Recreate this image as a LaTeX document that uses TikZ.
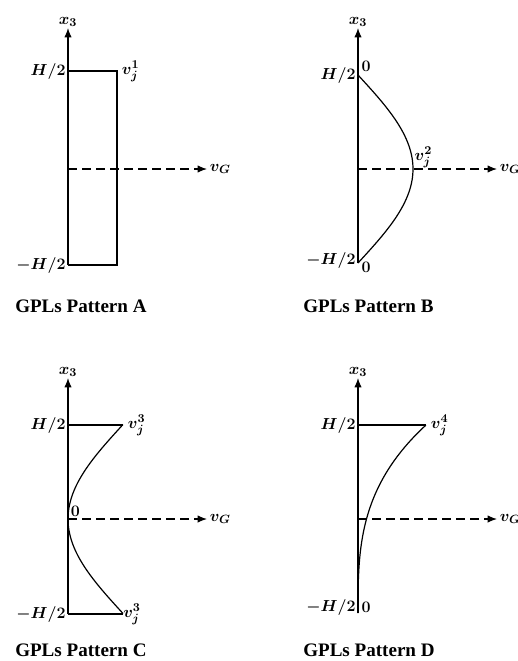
\documentclass[tikz,border=0pt]{standalone}
\usepackage{fontspec}
\setmainfont{Liberation Serif}
\usetikzlibrary{arrows.meta}
\tikzset{
	axis/.style={line width=0.9pt,-{Latex[length=7pt,width=5.5pt]}},
	level/.style={line width=0.9pt},
	mid/.style={line width=0.9pt,dash pattern=on 6.5pt off 4pt,-{Latex[length=7pt,width=5.5pt]}},
	lbl/.style={font=\fontsize{13}{15}\selectfont\boldmath,inner sep=1.5pt},
	ttl/.style={font=\fontsize{14.3}{16}\selectfont\bfseries,anchor=west,inner sep=0pt}
}
\begin{document}
\begin{tikzpicture}[x=0.75pt,y=-0.75pt]
	\useasboundingbox (0,0) rectangle (518,661);
	% Pattern A
	\coordinate (Atop) at (68,28)  node at (Atop) [lbl,above,inner sep=1pt] {$x_3$};
	\coordinate (At)   at (68,71)  node at (At) [lbl,left] {$H/2$};
	\coordinate (Ab)   at (68,265) node at (Ab) [lbl,left] {$-H/2$};
	\coordinate (Atr)  at (117,71) node at (Atr) [lbl,right,xshift=2pt] {$v_j^1$};
	\coordinate (Abr)  at (117,265);
	\coordinate (Am)   at (68,169);
	\coordinate (Ae)   at (207,169) node at (Ae) [lbl,right,inner sep=2pt] {$v_G$};
	\draw [axis] (Ab)--(Atop);
	\draw [level] (At)--(Atr)--(Abr)--(Ab);
	\draw [mid] (Am)--(Ae);
	\node [ttl] (titleA) at (15,306) {GPLs Pattern A};
	% Pattern B
	\coordinate (Btop) at (358,28)  node at (Btop) [lbl,above,inner sep=1pt] {$x_3$};
	\coordinate (Bt)   at (358,75)  node at (Bt) [lbl,left] {$H/2$};
	\coordinate (Bb)   at (358,263) node at (Bb) [lbl,left,yshift=2pt] {$-H/2$};
	\coordinate (Bpk)  at (413,169) node at (Bpk) [lbl,above right,inner sep=1pt] {$v_j^2$};
	\coordinate (Bm)   at (358,169);
	\coordinate (Be)   at (497,169) node at (Be) [lbl,right,inner sep=2pt] {$v_G$};
	\node [lbl,above right,inner sep=2.5pt] at (Bt) {$0$};
	\node [lbl,right,inner sep=2.5pt,yshift=-3pt] at (Bb) {$0$};
	\draw [axis] (Bb)--(Btop);
	\draw [level] plot[domain=-1:1,samples=60] ({358+55*cos(90*\x)},{169-94*\x});
	\draw [mid] (Bm)--(Be);
	\node [ttl] (titleB) at (303,306) {GPLs Pattern B};
	% Pattern C
	\coordinate (Ctop) at (68,378)  node at (Ctop) [lbl,above,inner sep=1pt] {$x_3$};
	\coordinate (Ct)   at (68,425)  node at (Ct) [lbl,left] {$H/2$};
	\coordinate (Cb)   at (68,614)  node at (Cb) [lbl,left] {$-H/2$};
	\coordinate (Ctr)  at (123,425) node at (Ctr) [lbl,right,xshift=2pt] {$v_j^3$};
	\coordinate (Cbr)  at (123,614) node at (Cbr) [lbl,right,inner sep=0pt] {$v_j^3$};
	\coordinate (Cm)   at (68,519)  node at (Cm) [lbl,above right,inner sep=2pt] {$0$};
	\coordinate (Ce)   at (207,519) node at (Ce) [lbl,right,inner sep=2pt] {$v_G$};
	\draw [axis] (Cb)--(Ctop);
	\draw [level] (Ct)--(Ctr) (Cb)--(Cbr);
	\draw [level] plot[domain=-1:1,samples=60] ({68+55*(1-cos(90*\x))},{519-94.5*\x});
	\draw [mid] (Cm)--(Ce);
	\node [ttl] (titleC) at (15,650) {GPLs Pattern C};
	% Pattern D
	\coordinate (Dtop) at (358,378) node at (Dtop) [lbl,above,inner sep=1pt] {$x_3$};
	\coordinate (Dt)   at (358,425) node at (Dt) [lbl,left] {$H/2$};
	\coordinate (Db)   at (358,613) node at (Db) [lbl,left,yshift=4pt] {$-H/2$};
	\coordinate (Dtr)  at (426,425) node at (Dtr) [lbl,right,xshift=2pt] {$v_j^4$};
	\coordinate (Dm)   at (358,519);
	\coordinate (De)   at (497,519) node at (De) [lbl,right,inner sep=2pt] {$v_G$};
	\node [lbl,right,inner sep=2.5pt,yshift=4pt] at (Db) {$0$};
	\draw [axis] (Db)--(Dtop);
	\draw [level] (Dt)--(Dtr);
	\draw [level] plot[domain=0:1,samples=60] ({358+68*\x*\x*\x},{613-188*\x});
	\draw [mid] (Dm)--(De);
	\node [ttl] (titleD) at (303,650) {GPLs Pattern D};
\end{tikzpicture}
\end{document}
